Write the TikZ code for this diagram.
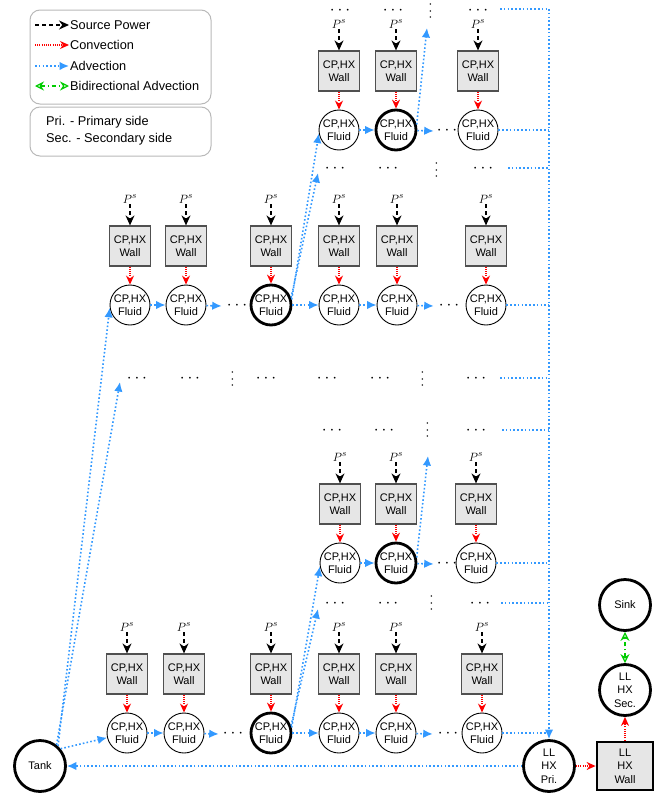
\documentclass[tikz,border=0pt]{standalone}
\usepackage{fontspec}
\setmainfont{Liberation Sans}
\usetikzlibrary{arrows.meta}
\definecolor{advblue}{RGB}{51,153,255}
\definecolor{convred}{RGB}{255,0,0}
\definecolor{bigreen}{RGB}{0,204,0}
\definecolor{wallfill}{RGB}{230,230,230}
\definecolor{wallline}{RGB}{80,80,80}
\definecolor{legline}{RGB}{185,185,185}
\newcommand\cellcol[4]{%
  \node[psrc] (P#1) at (#2,#3-106) {$P^s$};
  \node[wallbox] (W#1) at (#2,#3-59) {CP,HX\\Wall};
  \node[#4] (#1) at (#2,#3) {CP,HX\\Fluid};
  \draw[srcarrow] (P#1) -- (W#1);
  \draw[convarrow] (W#1) -- (#1);
}
\begin{document}
\begin{tikzpicture}[x=1pt,y=-1pt,
  lbl/.style={font=\fontsize{11}{13.5}\selectfont, align=center, inner sep=0pt},
  wallbox/.style={lbl, rectangle, draw=wallline, fill=wallfill, line width=1.2pt, minimum width=41pt, minimum height=40pt},
  fluidc/.style={lbl, circle, draw=black, line width=0.9pt, minimum size=40pt},
  thickc/.style={fluidc, line width=2.8pt},
  bigc/.style={lbl, circle, draw=black, line width=2.8pt, minimum size=51pt},
  psrc/.style={inner sep=1pt, font=\fontsize{13}{15}\selectfont},
  hdots/.style={inner sep=0pt, font=\fontsize{17}{17}\selectfont},
  vdots/.style={inner sep=0pt, rotate=90, font=\fontsize{14}{14}\selectfont},
  srcarrow/.style={draw=black, line width=1.2pt, dash pattern=on 4pt off 3pt, -{Stealth[length=10pt,width=9pt]}},
  convarrow/.style={draw=convred, line width=1.2pt, dash pattern=on 1pt off 1.2pt, -{Stealth[length=9pt,width=8pt]}},
  advline/.style={draw=advblue, line width=1.6pt, dash pattern=on 1.6pt off 2.2pt},
  advarrow/.style={advline, -{Latex[length=9.5pt,width=8.5pt]}},
  biarrow/.style={draw=bigreen, line width=1.2pt, dash pattern=on 4pt off 3pt on 1pt off 3pt, {Stealth[open,length=9pt,width=9pt]}-{Stealth[open,length=9pt,width=9pt]}},
  legtext/.style={font=\fontsize{12.75}{15}\selectfont, anchor=west, inner sep=0pt},
  legbox/.style={draw=legline, line width=1pt, rounded corners=10pt},
]
\useasboundingbox (0,0) rectangle (665,795);

% legend
\draw[legbox] (30,10) rectangle (211,104);
\draw[legbox] (30,107) rectangle (211,156);
\node[legtext] (lg1) at (70,25) {Source Power};
\node[legtext] (lg2) at (70,45) {Convection};
\node[legtext] (lg3) at (70,66) {Advection};
\node[legtext] (lg4) at (70,86) {Bidirectional Advection};
\node[legtext] (lg5) at (46,122) {Pri. - Primary side};
\node[legtext] (lg6) at (46,139) {Sec. - Secondary side};
\coordinate (ls1) at (35,25);
\coordinate (ls2) at (35,45);
\coordinate (ls3) at (35,66);
\coordinate (ls4) at (35,86);
\draw[srcarrow] (ls1) -- ([xshift=-1pt]lg1.west);
\draw[convarrow] (ls2) -- ([xshift=-1pt]lg2.west);
\draw[advarrow] (ls3) -- ([xshift=-1pt]lg3.west);
\draw[biarrow] (ls4) -- ([xshift=-1pt]lg4.west);

% cells
\cellcol{T1}{339}{130}{fluidc}
\cellcol{T2}{396}{130}{thickc}
\cellcol{T3}{478}{130}{fluidc}
\cellcol{M1}{130}{305}{fluidc}
\cellcol{M2}{186}{305}{fluidc}
\cellcol{M3}{271}{305}{thickc}
\cellcol{M4}{339}{305}{fluidc}
\cellcol{M5}{397}{305}{fluidc}
\cellcol{M6}{486}{305}{fluidc}
\cellcol{B1}{340}{563}{fluidc}
\cellcol{B2}{396}{563}{thickc}
\cellcol{B3}{476}{563}{fluidc}
\cellcol{A1}{127}{733}{fluidc}
\cellcol{A2}{184}{733}{fluidc}
\cellcol{A3}{271}{733}{thickc}
\cellcol{A4}{339}{733}{fluidc}
\cellcol{A5}{396}{733}{fluidc}
\cellcol{A6}{482}{733}{fluidc}

% dots rows
\node[hdots] (d01) at (340,11) {$\cdots$};
\node[hdots] (d02) at (393,11) {$\cdots$};
\node[vdots] (v03) at (431,11) {$\cdots$};
\node[hdots] (d04) at (478,11) {$\cdots$};
\node[hdots] (d11) at (335,169) {$\cdots$};
\node[hdots] (d12) at (388,169) {$\cdots$};
\node[vdots] (v13) at (437,170) {$\cdots$};
\node[hdots] (d14) at (483,169) {$\cdots$};
\node[hdots] (d21) at (137,379) {$\cdots$};
\node[hdots] (d22) at (190,379) {$\cdots$};
\node[vdots] (v23) at (233,379) {$\cdots$};
\node[hdots] (d24) at (266,379) {$\cdots$};
\node[hdots] (d25) at (327,379) {$\cdots$};
\node[hdots] (d26) at (380,379) {$\cdots$};
\node[vdots] (v27) at (423,379) {$\cdots$};
\node[hdots] (d28) at (476,379) {$\cdots$};
\node[hdots] (d31) at (332,431) {$\cdots$};
\node[hdots] (d32) at (384,431) {$\cdots$};
\node[vdots] (v33) at (428,430) {$\cdots$};
\node[hdots] (d34) at (476,431) {$\cdots$};
\node[hdots] (d41) at (335,604) {$\cdots$};
\node[hdots] (d42) at (388,604) {$\cdots$};
\node[vdots] (v43) at (432,603) {$\cdots$};
\node[hdots] (d44) at (480,604) {$\cdots$};
% in-row dots
\node[hdots] (tdx) at (447,131) {$\cdots$};
\node[hdots] (mdx1) at (237,306) {$\cdots$};
\node[hdots] (mdx2) at (449,306) {$\cdots$};
\node[hdots] (bdx) at (447,564) {$\cdots$};
\node[hdots] (adx1) at (233,734) {$\cdots$};
\node[hdots] (adx2) at (448,734) {$\cdots$};

% loop components
\node[bigc] (tank) at (40,766) {Tank};
\node[bigc] (pri) at (549,766) {LL\\HX\\Pri.};
\node[lbl, rectangle, draw=black, line width=2.8pt, fill=wallfill, minimum width=56pt, minimum height=48pt] (llw) at (625,766) {LL\\HX\\Wall};
\node[bigc] (sec) at (625,690) {LL\\HX\\Sec.};
\node[bigc] (sink) at (625,605) {Sink};
\draw[convarrow] (pri) -- (llw);
\draw[convarrow] (llw) -- (sec);
\draw[biarrow] (sec) -- (sink);

% advection within rows
\draw[advarrow] (T1) -- (T2);
\draw[advarrow] (T2) -- ([xshift=-3pt]tdx.west);
\draw[advarrow] (M1) -- (M2);
\draw[advarrow] (M2) -- ([xshift=-5pt]mdx1.west);
\draw[advarrow] (M3) -- (M4);
\draw[advarrow] (M4) -- (M5);
\draw[advarrow] (M5) -- ([xshift=-5pt]mdx2.west);
\draw[advarrow] (B1) -- (B2);
\draw[advarrow] (B2) -- ([xshift=-3pt]bdx.west);
\draw[advarrow] (A1) -- (A2);
\draw[advarrow] (A2) -- ([xshift=-4pt]adx1.west);
\draw[advarrow] (A3) -- (A4);
\draw[advarrow] (A4) -- (A5);
\draw[advarrow] (A5) -- ([xshift=-5pt]adx2.west);

% collector on the right
\coordinate (vtop) at (549,9);
\coordinate (r0) at (500,9);
\coordinate (r1) at (508,168);
\coordinate (r2) at (500,378);
\coordinate (r3) at (502,430);
\coordinate (r4) at (501,603);
\draw[advarrow] (vtop) -- (pri);
\draw[advline] (r0) -- (r0 -| vtop);
\draw[advline] (r1) -- (r1 -| vtop);
\draw[advline] (r2) -- (r2 -| vtop);
\draw[advline] (r3) -- (r3 -| vtop);
\draw[advline] (r4) -- (r4 -| vtop);
\draw[advline] (T3) -- (T3 -| vtop);
\draw[advline] (M6) -- (M6 -| vtop);
\draw[advline] (B3) -- (B3 -| vtop);
\draw[advline] (A6) -- (A6 -| vtop);
\draw[advarrow] (pri) -- (tank);

% branching upward
\coordinate (c21) at (120,382);
\coordinate (c11) at (318,173);
\coordinate (c41) at (318,609);
\coordinate (c33) at (428,456);
\coordinate (c03) at (427,28);
\draw[advarrow] (tank.40) -- (A1);
\draw[advarrow] (tank.48) -- (M1.188);
\draw[advarrow] (tank.52) -- (c21);
\draw[advarrow] (M3.15) -- (T1.190);
\draw[advarrow] (M3.20) -- (c11);
\draw[advarrow] (A3.15) -- (B1.190);
\draw[advarrow] (A3.20) -- (c41);
\draw[advarrow] (B2.15) -- (c33);
\draw[advarrow] (T2.15) -- (c03);
\end{tikzpicture}
\end{document}
